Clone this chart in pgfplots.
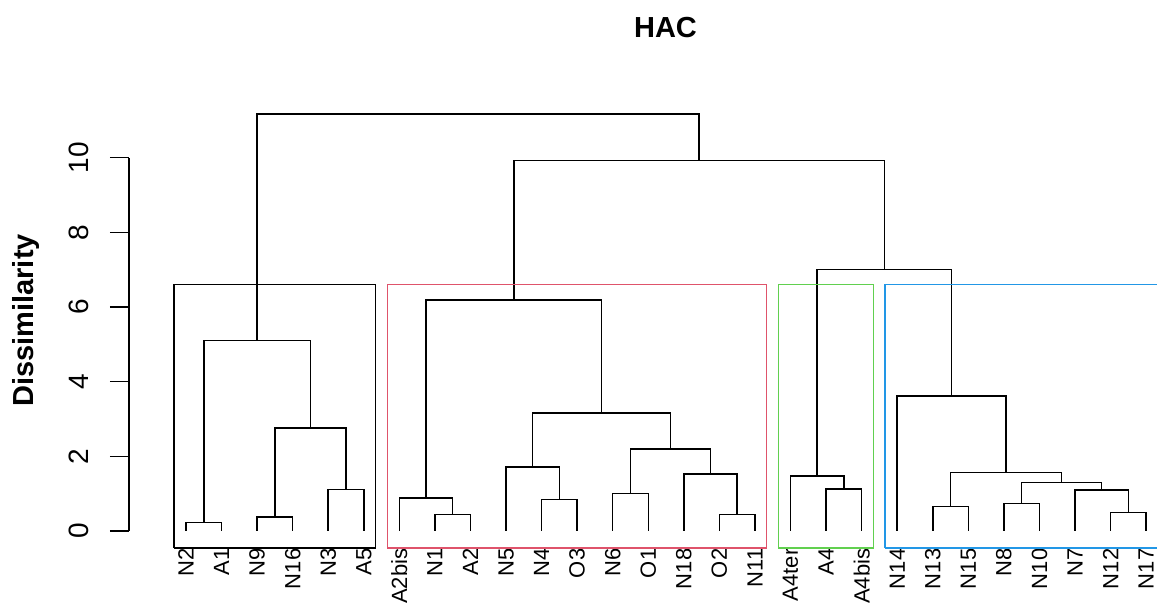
\documentclass[border=0pt]{standalone}
\usepackage{pgfplots}
\pgfplotsset{compat=1.18}
\usepackage{fontspec}
\setmainfont{Liberation Sans}
\definecolor{rred}{HTML}{DF536B}
\definecolor{rgreen}{HTML}{61D04F}
\definecolor{rblue}{HTML}{2297E6}
\begin{document}
\begin{tikzpicture}
\begin{axis}[
  at={(0pt,0pt)}, anchor=south west,
  scale only axis, width=513.9pt, height=222.1pt,
  xmin=-0.603, xmax=28.30, ymin=-0.5, ymax=11.4,
  axis line style={draw=none},
  clip mode=individual,
  xtick={1,...,28},
  xticklabels={N2,A1,N9,N16,N3,A5,A2bis,N1,A2,N5,N4,O3,N6,O1,N18,O2,N11,A4ter,A4,A4bis,N14,N13,N15,N8,N10,N7,N12,N17},
  xtick pos=left,
  tick style={black, line width=0.75pt},
  xtick style={draw=none},
  xticklabel style={yshift=10.2pt, rotate=90, anchor=east, inner sep=0pt, font=\fontsize{11}{13}\selectfont},
  ytick={0,2,4,6,8,10}, ytick pos=left, tick align=outside, major tick length=9.5pt,
  yticklabel style={xshift=-10.5pt, rotate=90, anchor=base, inner sep=0pt, font=\fontsize{14}{16}\selectfont},
  /pgf/number format/assume math mode=true,
  ylabel={Dissimilarity},
  ylabel style={at={(axis description cs:-0.0931,0.516)}, anchor=base, font=\bfseries\fontsize{14.5}{17}\selectfont},
  seg/.style={black, line width=0.75pt, mark=none},
]
% cluster 1
\addplot[seg] coordinates {(1,0)(1,0.23)(2,0.23)(2,0)};
\addplot[seg] coordinates {(3,0)(3,0.375)(4,0.375)(4,0)};
\addplot[seg] coordinates {(5,0)(5,1.11)(6,1.11)(6,0)};
\addplot[seg] coordinates {(3.5,0.375)(3.5,2.76)(5.5,2.76)(5.5,1.11)};
\addplot[seg] coordinates {(1.5,0.23)(1.5,5.10)(4.5,5.10)(4.5,2.76)};
% cluster 2
\addplot[seg] coordinates {(8,0)(8,0.44)(9,0.44)(9,0)};
\addplot[seg] coordinates {(7,0)(7,0.89)(8.5,0.89)(8.5,0.44)};
\addplot[seg] coordinates {(11,0)(11,0.84)(12,0.84)(12,0)};
\addplot[seg] coordinates {(10,0)(10,1.72)(11.5,1.72)(11.5,0.84)};
\addplot[seg] coordinates {(13,0)(13,1.00)(14,1.00)(14,0)};
\addplot[seg] coordinates {(16,0)(16,0.44)(17,0.44)(17,0)};
\addplot[seg] coordinates {(15,0)(15,1.53)(16.5,1.53)(16.5,0.44)};
\addplot[seg] coordinates {(13.5,1.00)(13.5,2.20)(15.75,2.20)(15.75,1.53)};
\addplot[seg] coordinates {(10.75,1.72)(10.75,3.16)(14.625,3.16)(14.625,2.20)};
\addplot[seg] coordinates {(7.75,0.89)(7.75,6.19)(12.6875,6.19)(12.6875,3.16)};
% cluster 3
\addplot[seg] coordinates {(19,0)(19,1.13)(20,1.13)(20,0)};
\addplot[seg] coordinates {(18,0)(18,1.47)(19.5,1.47)(19.5,1.13)};
% cluster 4
\addplot[seg] coordinates {(22,0)(22,0.66)(23,0.66)(23,0)};
\addplot[seg] coordinates {(24,0)(24,0.73)(25,0.73)(25,0)};
\addplot[seg] coordinates {(27,0)(27,0.50)(28,0.50)(28,0)};
\addplot[seg] coordinates {(26,0)(26,1.10)(27.5,1.10)(27.5,0.50)};
\addplot[seg] coordinates {(24.5,0.73)(24.5,1.30)(26.75,1.30)(26.75,1.10)};
\addplot[seg] coordinates {(22.5,0.66)(22.5,1.57)(25.625,1.57)(25.625,1.30)};
\addplot[seg] coordinates {(21,0)(21,3.62)(24.0625,3.62)(24.0625,1.57)};
% upper merges
\addplot[seg] coordinates {(18.75,1.47)(18.75,7.01)(22.53125,7.01)(22.53125,3.62)};
\addplot[seg] coordinates {(10.21875,6.19)(10.21875,9.93)(20.640625,9.93)(20.640625,7.01)};
\addplot[seg] coordinates {(3,5.10)(3,11.17)(15.4296875,11.17)(15.4296875,9.93)};
% cluster rectangles
\addplot[seg] coordinates {(0.66,-0.45)(0.66,6.6)(6.33,6.6)(6.33,-0.45)(0.66,-0.45)};
\addplot[seg, rred] coordinates {(6.66,-0.45)(6.66,6.6)(17.33,6.6)(17.33,-0.45)(6.66,-0.45)};
\addplot[seg, rgreen] coordinates {(17.66,-0.45)(17.66,6.6)(20.33,6.6)(20.33,-0.45)(17.66,-0.45)};
\addplot[seg, rblue] coordinates {(20.66,-0.45)(20.66,6.6)(28.33,6.6)(28.33,-0.45)(20.66,-0.45)};
% R-style y axis line
\draw[black, line width=0.75pt] (axis cs:-0.603,0) -- (axis cs:-0.603,10);
\end{axis}
\node[anchor=base, font=\bfseries\fontsize{14.5}{17}\selectfont] at (268.25pt,256.2pt) {HAC};
\pgfresetboundingbox
\path[use as bounding box] (-64.5pt,-26.67pt) rectangle (514pt,274.83pt);
\end{tikzpicture}
\end{document}
